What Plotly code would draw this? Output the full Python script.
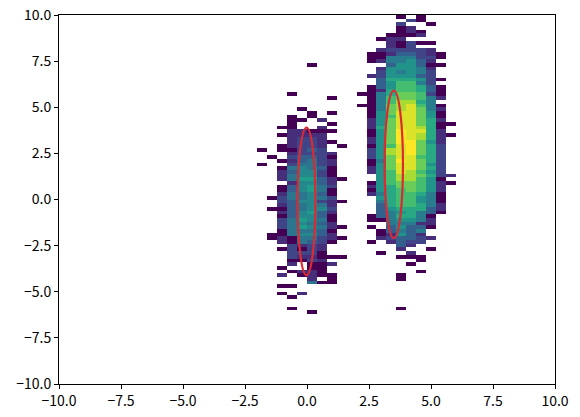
import math
import plotly.graph_objects as go

# histogram bin edges along each axis
x_bin_count = 50
y_bin_count = 100
axis_min = -10.0
axis_max = 10.0
tick_vals = [-10, -7.5, -5, -2.5, 0, 2.5, 5, 7.5, 10]
tick_text = ["\u221210.0", "\u22127.5", "\u22125.0", "\u22122.5", "0.0", "2.5", "5.0", "7.5", "10.0"]

# estimated count represented by each shade level
left_level_counts = [0, 1, 2, 3, 5, 8, 12, 19]
right_level_counts = [0, 1, 2, 3, 5, 9, 15, 24, 40, 60, 100, 150, 200]
count_max = 200

# left cluster: y-bin index -> shade level for x-bins -5..3
left_first_col = 20
left_rows = {
    36: [0,0,0,0,0,1,0,0,0],
    28: [0,0,0,1,0,0,0,0,0],
    27: [0,0,0,0,0,0,0,1,0],
    24: [0,0,0,0,1,0,0,0,0],
    23: [0,0,0,0,0,1,0,1,0],
    22: [0,0,0,1,0,1,0,0,0],
    21: [0,0,0,1,1,0,2,0,0],
    20: [0,0,0,1,0,0,0,1,0],
    19: [0,0,1,1,0,0,2,0,0],
    18: [0,0,0,2,2,1,1,1,0],
    17: [0,0,1,2,2,2,2,0,0],
    16: [0,0,0,2,3,3,2,0,0],
    15: [0,0,0,2,3,3,2,1,0],
    14: [0,0,1,2,3,3,2,0,1],
    13: [1,0,1,1,3,4,3,0,0],
    12: [0,0,0,2,3,3,3,2,0],
    11: [0,1,0,3,4,4,3,1,0],
    10: [0,0,1,2,4,5,3,2,0],
    9:  [1,0,0,3,5,5,3,2,0],
    8:  [0,0,1,5,6,5,4,1,0],
    7:  [0,0,2,4,6,6,3,1,0],
    6:  [0,0,2,5,6,6,3,1,0],
    5:  [0,0,2,5,7,7,4,2,1],
    4:  [0,0,0,2,6,6,4,2,0],
    3:  [0,0,1,4,6,7,5,3,0],
    2:  [0,0,1,4,6,7,5,1,0],
    1:  [0,0,2,5,5,6,4,1,0],
    0:  [0,1,3,5,5,6,5,3,0],
    -1: [0,0,3,4,6,6,3,2,1],
    -2: [0,0,2,4,5,6,5,2,0],
    -3: [0,1,1,4,5,6,6,3,0],
    -4: [0,0,2,4,6,7,4,2,0],
    -5: [0,0,1,4,6,6,4,1,0],
    -6: [0,0,3,5,7,6,5,1,0],
    -7: [0,0,3,5,6,5,4,2,0],
    -8: [0,0,3,5,7,6,5,2,1],
    -9: [0,0,1,5,5,5,4,1,0],
    -10:[0,1,1,5,6,6,4,2,0],
    -11:[0,1,2,1,5,5,3,2,1],
    -12:[0,0,2,1,5,4,3,1,0],
    -13:[0,0,0,3,2,3,2,0,0],
    -14:[0,0,1,3,1,3,2,0,0],
    -15:[0,0,0,3,3,3,1,0,0],
    -16:[0,0,0,3,2,2,1,1,1],
    -17:[0,0,0,1,1,3,2,0,0],
    -18:[0,0,0,2,0,1,1,2,0],
    -19:[0,0,1,0,0,1,1,0,0],
    -20:[0,0,0,1,2,2,1,0,0],
    -21:[0,0,2,0,1,2,1,1,0],
    -22:[0,0,0,0,0,2,0,1,0],
    -23:[0,0,0,0,0,5,1,1,0],
    -24:[0,0,1,1,0,0,0,0,0],
    -26:[0,0,1,0,2,0,0,0,0],
    -27:[0,0,0,1,0,0,0,0,0],
    -30:[0,0,0,1,0,0,0,0,0],
    -31:[0,0,0,0,0,1,0,0,0],
}

# right cluster: y-bin index -> shade level for x-bins 5..14
right_first_col = 30
right_rows = {
    49: [0,0,0,0,1,0,1,0,0,0],
    48: [0,0,0,0,0,3,1,0,0,0],
    47: [0,0,0,0,3,0,0,1,0,0],
    46: [0,0,0,0,1,2,0,0,0,0],
    45: [0,0,0,0,1,2,1,0,0,0],
    44: [0,0,0,1,1,1,2,0,0,0],
    43: [0,0,1,2,2,0,0,0,0,0],
    42: [0,0,0,2,1,3,1,1,0,0],
    41: [0,0,0,2,1,3,0,0,0,0],
    40: [0,0,2,3,3,3,3,2,0,0],
    39: [0,1,1,2,4,4,3,2,1,0],
    38: [0,1,1,5,5,5,3,3,1,0],
    37: [0,1,2,5,5,6,4,2,0,0],
    36: [0,0,0,4,6,6,4,1,1,0],
    35: [0,0,2,6,6,6,5,2,0,0],
    34: [0,0,3,6,5,6,5,3,0,0],
    33: [0,2,3,6,6,6,4,3,0,0],
    32: [0,0,4,7,7,7,6,3,1,0],
    31: [0,0,4,6,8,8,5,3,0,0],
    30: [0,1,4,6,8,8,7,4,1,0],
    29: [0,1,2,7,8,8,7,4,1,0],
    28: [1,1,5,7,9,9,8,3,1,0],
    27: [0,1,5,8,9,9,8,5,2,0],
    26: [0,1,5,8,10,10,7,5,0,0],
    25: [1,1,5,9,10,11,8,5,1,0],
    24: [0,1,5,9,10,11,9,5,2,0],
    23: [0,1,6,9,11,11,9,6,1,0],
    22: [0,1,6,8,11,11,9,6,1,0],
    21: [0,2,6,9,11,11,9,7,2,0],
    20: [0,2,6,9,11,11,9,7,1,1],
    19: [0,2,7,9,11,11,10,7,1,0],
    18: [0,1,6,9,12,11,11,7,2,0],
    17: [0,1,6,9,12,11,10,7,2,1],
    16: [0,2,6,9,12,11,10,7,2,0],
    15: [0,2,6,9,12,12,9,6,2,0],
    14: [0,1,6,8,11,12,9,7,3,0],
    13: [0,3,6,10,11,12,9,7,3,0],
    12: [0,3,6,10,11,12,9,7,3,0],
    11: [0,3,6,9,11,11,8,7,3,0],
    10: [0,1,5,9,12,11,9,7,3,0],
    9:  [0,1,6,9,11,11,9,6,3,0],
    8:  [0,2,6,9,11,11,9,7,3,0],
    7:  [0,2,6,8,11,10,8,6,3,0],
    6:  [0,0,6,8,10,10,9,7,3,2],
    5:  [0,0,6,8,10,10,8,6,1,0],
    4:  [0,1,6,8,9,9,8,6,2,1],
    3:  [0,2,6,7,9,9,8,6,2,0],
    2:  [0,1,6,7,8,9,8,6,2,0],
    1:  [0,2,5,7,8,8,7,5,1,0],
    0:  [0,0,6,7,8,8,6,5,1,0],
    -1: [0,0,5,7,8,8,6,5,1,0],
    -2: [0,0,4,7,8,8,7,5,2,0],
    -3: [0,0,4,6,7,7,7,4,2,0],
    -4: [0,0,4,5,6,7,5,4,1,0],
    -5: [0,1,4,5,7,7,5,1,0,0],
    -6: [0,1,1,5,6,6,5,2,0,0],
    -7: [0,0,0,5,5,5,2,2,0,0],
    -8: [0,1,0,4,6,4,4,1,0,0],
    -9: [0,0,1,4,5,4,5,0,0,0],
    -10:[0,0,1,2,6,4,2,0,0,0],
    -11:[0,0,2,3,4,4,3,2,0,0],
    -12:[0,1,0,2,4,3,3,0,0,0],
    -13:[0,0,0,0,4,2,0,0,0,0],
    -14:[0,0,0,0,2,0,0,1,0,0],
    -15:[0,0,1,0,0,2,0,0,0,0],
    -16:[0,0,0,0,1,1,1,0,0,0],
    -17:[0,0,0,0,0,0,1,0,0,0],
    -18:[0,0,0,0,0,1,0,0,0,0],
    -20:[0,0,0,0,0,0,1,0,0,0],
    -21:[0,0,0,0,1,0,0,0,0,0],
    -22:[0,0,0,0,1,0,0,0,0,0],
    -30:[0,0,0,0,1,0,0,0,0,0],
}

# ellipses: (centre x, centre y, half width, half height)
ellipse_left = (-0.02, -0.1, 0.36, 4.0)
ellipse_right = (3.5, 1.9, 0.37, 4.0)
ellipse_color = "#dc2a32"

step_x = (axis_max - axis_min) / x_bin_count
step_y = (axis_max - axis_min) / y_bin_count
x_edges = [axis_min + i * step_x for i in range(x_bin_count + 1)]
y_edges = [axis_min + i * step_y for i in range(y_bin_count + 1)]

z = [[None] * x_bin_count for _ in range(y_bin_count)]
for rows, first, table in ((left_rows, left_first_col, left_level_counts),
                           (right_rows, right_first_col, right_level_counts)):
    for j, levels in rows.items():
        for i, lev in enumerate(levels):
            if lev:
                z[50 + j][first + i] = math.log10(table[lev])

fig = go.Figure(go.Heatmap(
    x=x_edges, y=y_edges, z=z,
    colorscale="Viridis", zmin=0, zmax=math.log10(count_max),
    showscale=False, hoverongaps=False,
))

for cx, cy, rx, ry in (ellipse_left, ellipse_right):
    fig.add_shape(type="circle", xref="x", yref="y",
                  x0=cx - rx, x1=cx + rx, y0=cy - ry, y1=cy + ry,
                  line=dict(color=ellipse_color, width=2.2))

axis_style = dict(
    range=[axis_min, axis_max], tickmode="array", tickvals=tick_vals, ticktext=tick_text,
    showgrid=False, zeroline=False, showline=True, mirror=True, automargin=False,
    linecolor="black", linewidth=1, ticks="outside", ticklen=4, tickwidth=1, tickcolor="black",
)
fig.update_xaxes(**axis_style)
fig.update_yaxes(**axis_style)
fig.update_layout(
    width=580, height=417, autosize=False,
    margin=dict(l=59, r=25, t=15, b=33),
    paper_bgcolor="white", plot_bgcolor="white",
    font=dict(family="Noto Sans CJK JP", size=14, color="black"),
)
fig.write_html("out.html", config={"displayModeBar": False},
               post_script="document.body.style.margin='0';")
